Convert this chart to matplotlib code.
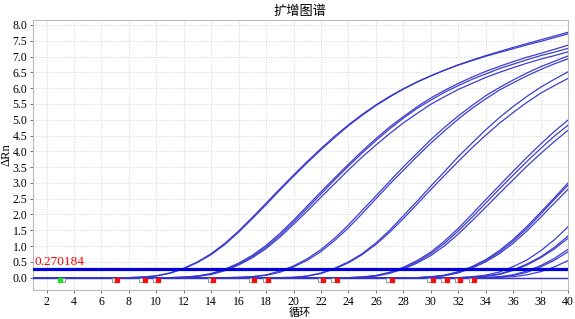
import numpy as np
import matplotlib
matplotlib.use("Agg")
import matplotlib.pyplot as plt

cycles = np.arange(1, 41)
threshold = 0.270184

# amplification curves, values listed from the first cycle that leaves the baseline
g1a = [0.02, 0.06, 0.15, 0.30, 0.50, 0.76, 1.09, 1.48, 1.91, 2.36, 2.81, 3.25, 3.68, 4.09, 4.48, 4.84,
       5.17, 5.47, 5.74, 5.98, 6.20, 6.39, 6.57, 6.73, 6.87, 7.01, 7.13, 7.25, 7.37, 7.48, 7.60, 7.72]
g1b = [0.02, 0.05, 0.14, 0.28, 0.48, 0.73, 1.05, 1.44, 1.87, 2.31, 2.77, 3.21, 3.64, 4.05, 4.44, 4.81,
       5.14, 5.45, 5.72, 5.97, 6.19, 6.39, 6.57, 6.74, 6.89, 7.03, 7.16, 7.29, 7.41, 7.53, 7.65, 7.77]
g2a = [0.02, 0.05, 0.13, 0.27, 0.46, 0.71, 1.02, 1.40, 1.82, 2.27, 2.72, 3.16, 3.59, 4.01, 4.40, 4.77,
       5.10, 5.41, 5.69, 5.93, 6.15, 6.35, 6.53, 6.69, 6.84, 6.98, 7.10, 7.23, 7.36]
g2b = [0.01, 0.05, 0.12, 0.25, 0.43, 0.67, 0.97, 1.34, 1.76, 2.20, 2.65, 3.10, 3.53, 3.95, 4.34, 4.71,
       5.05, 5.36, 5.62, 5.87, 6.08, 6.28, 6.45, 6.62, 6.76, 6.90, 7.03, 7.14, 7.26]
g2c = [0.01, 0.04, 0.10, 0.22, 0.40, 0.63, 0.92, 1.28, 1.69, 2.11, 2.55, 2.98, 3.41, 3.82, 4.20, 4.56,
       4.90, 5.20, 5.49, 5.73, 5.96, 6.15, 6.34, 6.50, 6.65, 6.79, 6.92, 7.03, 7.15]
g3a = [0.01, 0.03, 0.09, 0.21, 0.37, 0.60, 0.89, 1.25, 1.67, 2.13, 2.59, 3.05, 3.51, 3.94, 4.37, 4.76,
       5.12, 5.45, 5.76, 6.02, 6.26, 6.48, 6.68, 6.85, 7.02]
g3b = [0.01, 0.03, 0.07, 0.17, 0.34, 0.55, 0.83, 1.18, 1.58, 2.03, 2.50, 2.96, 3.40, 3.84, 4.26, 4.65,
       5.02, 5.36, 5.66, 5.94, 6.17, 6.39, 6.59, 6.77, 6.93]
g4a = [0.01, 0.05, 0.15, 0.30, 0.50, 0.76, 1.10, 1.50, 1.96, 2.42, 2.90, 3.36, 3.83, 4.26, 4.68, 5.07,
       5.42, 5.74, 6.03, 6.28, 6.52]
g4b = [0.01, 0.05, 0.13, 0.28, 0.47, 0.73, 1.05, 1.44, 1.87, 2.33, 2.79, 3.24, 3.68, 4.11, 4.51, 4.89,
       5.23, 5.55, 5.84, 6.08, 6.31]
g5a = [0.02, 0.07, 0.17, 0.33, 0.54, 0.81, 1.16, 1.56, 2.01, 2.47, 2.92, 3.37, 3.81, 4.23, 4.63, 4.99]
g5b = [0.02, 0.06, 0.15, 0.30, 0.50, 0.76, 1.09, 1.48, 1.91, 2.36, 2.81, 3.25, 3.68, 4.09, 4.48, 4.83]
g5c = [0.01, 0.05, 0.14, 0.27, 0.46, 0.70, 1.01, 1.38, 1.80, 2.23, 2.67, 3.10, 3.53, 3.93, 4.31, 4.67]
g6a = [0.03, 0.08, 0.19, 0.35, 0.57, 0.86, 1.21, 1.62, 2.07, 2.53, 3.00]
g6b = [0.02, 0.07, 0.17, 0.33, 0.54, 0.81, 1.16, 1.56, 2.01, 2.48, 2.93]
g6c = [0.02, 0.06, 0.15, 0.30, 0.50, 0.76, 1.09, 1.48, 1.91, 2.36, 2.80]
g7a = [0.03, 0.08, 0.18, 0.35, 0.56, 0.85, 1.20, 1.61]
g7b = [0.01, 0.05, 0.12, 0.25, 0.43, 0.66, 0.96, 1.32]
g7c = [0.01, 0.04, 0.10, 0.23, 0.40, 0.63, 0.91, 1.25]
g8a = [0.03, 0.09, 0.21, 0.38, 0.61, 0.90]
g8b = [0.02, 0.07, 0.17, 0.34, 0.55, 0.82]
g8c = [0.01, 0.03, 0.09, 0.19, 0.34, 0.54]
neg1 = [0.0]
neg2 = [-0.01]

curves = [g1a, g1b, g2a, g2b, g2c, g3a, g3b, g4a, g4b, g5a, g5b, g5c,
          g6a, g6b, g6c, g7a, g7b, g7c, g8a, g8b, g8c, neg1, neg2]

baseline_start = [3]
baseline_end = [7, 9, 10, 14, 17, 18, 22, 23, 27, 30, 31, 32, 33]

x_ticks = list(range(2, 41, 2))
y_ticks = [i * 0.5 for i in range(0, 17)]


def full(vals):
    vals = list(vals)
    if len(vals) == 1:
        return np.array(vals * 40)
    return np.array([0.0] * (40 - len(vals)) + vals)


fig = plt.figure(figsize=(5.75, 3.19), dpi=100)
ax = fig.add_axes([0.057, 0.091, 0.931, 0.846])

serif = ["Liberation Serif", "DejaVu Serif"]
cjk = ["Noto Sans CJK SC", "DejaVu Sans"]

for c in curves:
    ax.plot(cycles, full(c), color="#3434cc", lw=0.9, alpha=0.95, zorder=3)

ax.axhline(threshold, color="#0000dd", lw=2.3, zorder=4)
ax.text(1.15, threshold + 0.04, f"{threshold:.6f}", color="red", fontsize=9.5,
        family=serif, ha="left", va="bottom", zorder=5)

my = -0.06
for s in baseline_start:
    ax.plot([s + 0.2], [my], marker="s", ms=3.4, mfc="white", mec="#888888", mew=0.6, ls="none", zorder=5)
    ax.plot([s - 0.03], [my], marker="s", ms=3.4, mfc="#22dd22", mec="#22dd22", ls="none", zorder=6)
for e in baseline_end:
    ax.plot([e - 0.1], [my], marker="s", ms=3.4, mfc="white", mec="#888888", mew=0.6, ls="none", zorder=5)
    ax.plot([e + 0.15], [my], marker="s", ms=3.4, mfc="#ee1111", mec="#ee1111", ls="none", zorder=6)

ax.set_xlim(1.0, 40.0)
ax.set_ylim(-0.39, 8.155)
ax.set_xticks(x_ticks)
ax.set_yticks(y_ticks)
ax.set_xticklabels([str(t) for t in x_ticks], family=serif, fontsize=8.5)
ax.set_yticklabels([f"{t:.1f}" for t in y_ticks], family=serif, fontsize=8.5)
ax.tick_params(axis="both", length=2.5, width=0.6, color="#555555", pad=1.5)
ax.grid(True, color="#d8d8d8", ls=(0, (1.5, 1.5)), lw=0.6, zorder=0)
for sp in ax.spines.values():
    sp.set_color("#bbbbbb")
    sp.set_linewidth(0.8)

fig.text(0.522, 0.004, "循环", family=cjk, fontsize=8, ha="center", va="bottom")
ax.set_ylabel("ΔRn", family=serif, fontsize=9)
ax.yaxis.set_label_coords(-0.037, 0.5)
ax.set_title("扩增图谱", family=cjk, fontsize=9.5, pad=4)

fig.savefig("out.png", dpi=100)
